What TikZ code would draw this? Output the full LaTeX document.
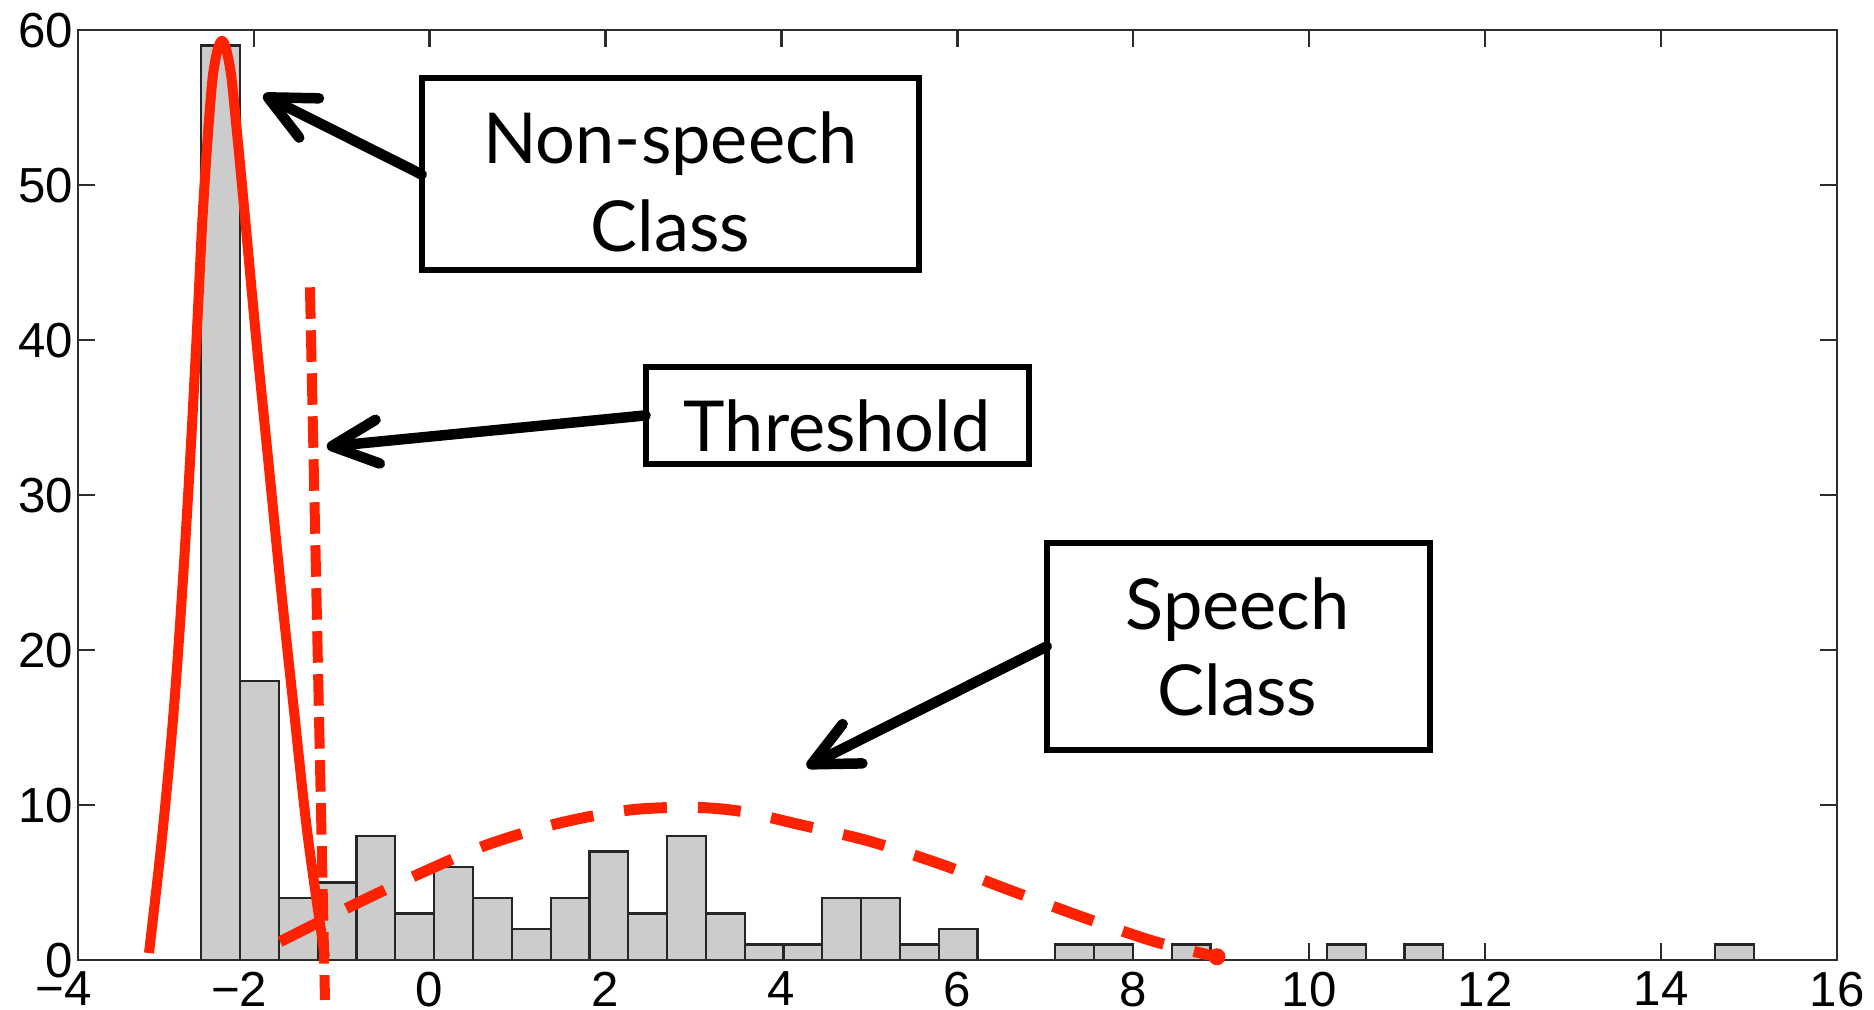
\documentclass[tikz,border=0pt]{standalone}
\usepackage{fontspec}
\setmainfont{Liberation Sans}
\newfontfamily\calloutfont{Lato}
\usetikzlibrary{arrows.meta}
\definecolor{fitred}{RGB}{255,34,0}
\definecolor{axisgray}{RGB}{45,45,45}
\definecolor{barfill}{RGB}{204,204,204}
\begin{document}
\begin{tikzpicture}[x=0.1mm, y=-0.1mm,
  axisframe/.style={draw=axisgray, line width=0.22mm},
  tickmark/.style={draw=axisgray, line width=0.22mm},
  ticklab/.style={font=\fontsize{14}{16}\selectfont, inner sep=0pt, outer sep=0pt, text depth=0pt},
  histbar/.style={draw=black!85, fill=barfill, line width=0.22mm},
  gaussfit/.style={draw=fitred, line width=1.0mm, line join=round},
  threshline/.style={draw=fitred, line width=1.0mm, dash pattern=on 3.15mm off 1.15mm},
  speechfit/.style={draw=fitred, line width=1.1mm, dash pattern=on 4.3mm off 3.1mm},
  callout/.style={draw=black, line width=0.6mm, fill=white, rectangle, inner sep=0pt, outer sep=0pt},
  callouttext/.style={font=\calloutfont\fontsize{20}{24}\selectfont, inner sep=0pt, anchor=base},
  pointer/.style={draw=black, line width=1.05mm, line cap=round,
    -{Straight Barb[length=4.6mm, width=4.4mm, round]}},
]
\useasboundingbox (0,0) rectangle (1874,1010);

% data coordinates: x from -4 to 16, y (counts) from 0 to 60
\begin{scope}[shift={(42.96mm,-96mm)}, x=8.797mm, y=1.55mm]
  % inward ticks on all four sides
  \foreach \t in {-2,0,...,14} {
    \draw[tickmark] (\t,0) -- ++(0,1.7mm);
    \draw[tickmark] (\t,60) -- ++(0,-1.7mm);
  }
  \foreach \t in {10,20,...,50} {
    \draw[tickmark] (-4,\t) -- ++(1.7mm,0);
    \draw[tickmark] (16,\t) -- ++(-1.7mm,0);
  }
  % histogram with 40 equal bins
  \foreach \i/\h in {0/59,1/18,2/4,3/5,4/8,5/3,6/6,7/4,8/2,9/4,10/7,11/3,12/8,13/3,14/1,15/1,16/4,17/4,18/1,19/2,22/1,23/1,25/1,29/1,31/1,39/1}
    \draw[histbar] ({-2.595+0.4412*\i},0) rectangle ({-2.595+0.4412*(\i+1)},\h);
  \draw[axisframe] (-4,0) rectangle (16,60);
  % tick labels
  \foreach \v in {0,10,...,60}
    \node[ticklab, anchor=east, xshift=-0.45mm] (ylab\v) at (-4,\v) {\v};
  \foreach \v [count=\k] in {-4,-2,...,16}
    \node[ticklab, anchor=north, yshift=-1.2mm] (xlab\k) at (\v,0)
      {\ifnum\v<0 \llap{−}\number\numexpr-\v\relax\else\v\fi};
  % non-speech fit
  \draw[gaussfit] plot[smooth, tension=0.6] coordinates {
    (-3.19,0.45) (-3.04,8) (-2.91,16) (-2.81,24) (-2.725,32) (-2.65,40)
    (-2.58,48) (-2.51,54) (-2.45,57.6) (-2.36,59.3) (-2.27,57.6) (-2.20,54)
    (-2.10,48) (-1.97,40) (-1.83,32) (-1.69,24) (-1.54,16) (-1.385,8) (-1.19,0.2)};
  % threshold
  \coordinate (thrtop) at (-1.36,43.4);
  \coordinate (thrbot) at (-1.189,-2.58);
  \draw[threshline] (thrtop) -- (thrbot);
  % speech fit
  \draw[speechfit] plot[smooth] coordinates {
    (-1.70,1.18) (-0.905,3.44) (-0.147,5.48) (0.649,7.42) (1.48,8.84) (2.28,9.68)
    (3.0,9.85) (3.56,9.57) (4.18,8.77) (4.99,7.68) (5.80,6.2) (6.62,4.45)
    (7.40,2.81) (8.24,1.19) (8.95,0.21)};
  \coordinate (speechend) at (8.95,0.21);
  \fill[fitred] (speechend) circle (0.85mm);
\end{scope}

% callout boxes
\node[callout, minimum width=49.7mm, minimum height=19.2mm] (nsbox) at (670.2,174.5) {};
\node[callouttext] (nsline1) at (670.5,163.3) {Non-speech};
\node[callouttext] (nsline2) at (670.5,251.7) {Class};
\node[callout, minimum width=38.35mm, minimum height=9.73mm] (thbox) at (837.3,415.4) {};
\node[callouttext] (thtext) at (837.3,451.7) {Threshold};
\node[callout, minimum width=38.33mm, minimum height=20.73mm] (spbox) at (1238.4,646.4) {};
\node[callouttext] (spline1) at (1237.5,630) {Speech};
\node[callouttext] (spline2) at (1237.5,715) {Class};

% pointers
\coordinate (nstip) at (263.3,95);
\coordinate (thtip) at (326.7,446.7);
\coordinate (sptip) at (806.7,766.7);
\draw[pointer] (nsbox.west) -- (nstip);
\draw[pointer] (thbox.west) -- (thtip);
\draw[pointer] (spbox.west) -- (sptip);
\end{tikzpicture}
\end{document}
